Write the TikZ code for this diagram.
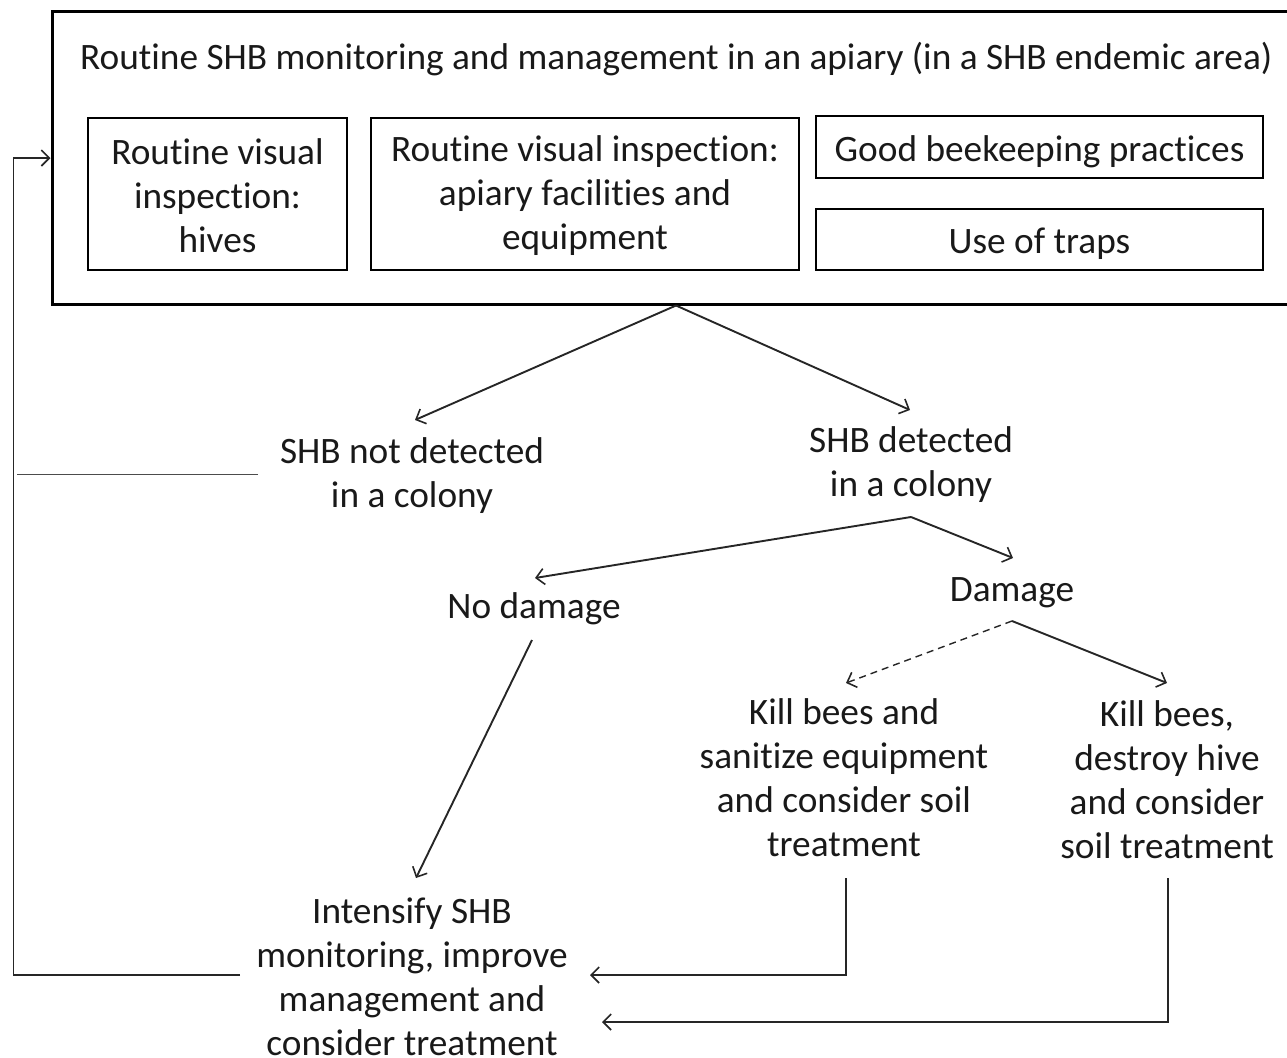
\documentclass[tikz,border=0pt]{standalone}
\usepackage{fontspec}
\setmainfont{Carlito}[Ligatures=NoCommon]
\usetikzlibrary{arrows.meta,calc}
\begin{document}
\begin{tikzpicture}[x=1pt,y=-1pt,
  every node/.style={font=\fontsize{37.3}{44}\selectfont, text=black!90},
  box/.style={draw, line width=2.6pt, inner sep=0pt, align=center},
  txt/.style={inner sep=0pt, align=center},
  arr/.style={line width=1.9pt, draw=black!85, -{Straight Barb[length=8pt,width=16pt,line width=1.6pt]}},
  thin/.style={line width=0.9pt, draw=black!70}]
\useasboundingbox (0,0) rectangle (1287,1057);
\clip (0,0) rectangle (1287,1057);
\node[draw, line width=3pt, minimum width=1248pt, minimum height=292pt, inner sep=0pt] (outer) at (676,158) {};
\node[anchor=west, inner sep=0pt] (title) at (80,59) {Routine SHB monitoring and management in an apiary (in a SHB endemic area)};
\node[box, minimum width=259pt, minimum height=152pt] (b1) at (217.5,194) {\rule{0pt}{30pt}Routine visual\\inspection:\\hives};
\node[box, minimum width=428pt, minimum height=152pt] (b2) at (585,194) {\rule{0pt}{30pt}Routine visual inspection:\\apiary facilities and\\equipment};
\node[box, minimum width=447pt, minimum height=62pt, text height=29pt, text depth=0pt] (b3) at (1039.5,147) {Good beekeeping practices};
\node[box, minimum width=447pt, minimum height=61pt, text height=28pt, text depth=0pt] (b4) at (1039.5,239.5) {Use of traps};

\node[txt] (nd) at (412,476) {SHB not detected\\in a colony};
\node[txt] (det) at (911,465) {SHB detected\\in a colony};
\node[txt] (nod) at (534,609) {No damage};
\node[txt] (dam) at (1012,593) {Damage};
\node[txt] (k1) at (844,778) {Kill bees and\\sanitize equipment\\and consider soil\\treatment};
\node[txt] (k2) at (1167,780) {Kill bees,\\destroy hive\\and consider\\soil treatment};
\node[txt] (int) at (412,977) {Intensify SHB\\monitoring, improve\\management and\\consider treatment};

\draw[arr] (outer.south) -- ($(nd)+(3,-56)$);
\draw[arr] (outer.south) -- ($(det)+(-1,-55)$);
\draw[arr] ($(det)+(0,52)$) -- ($(nod)+(1,-31)$);
\draw[arr] ($(det)+(0,52)$) -- ($(dam)+(1,-35)$);
\draw[arr, dash pattern=on 7pt off 5pt, line width=1.4pt] ($(dam)+(0,28)$) -- ($(k1)+(2,-95)$);
\draw[arr] ($(dam)+(0,28)$) -- ($(k2)+(0,-97)$);
\draw[arr] ($(nod)+(-2,31)$) -- ($(int)+(4,-99)$);
\draw[arr] ($(k1)+(2,100)$) |- ($(int)+(178,-2)$);
\draw[arr] ($(k2)+(1,98)$) |- ($(int)+(190,45)$);
\draw[arr] ($(int)+(-172,-2)$) -| ($(outer.west)+(-37,0)$) -- (outer.west);
\draw[thin] ($(nd)+(-154,-2)$) -- ($(nd)+(-395,-2)$);
\end{tikzpicture}
\end{document}
